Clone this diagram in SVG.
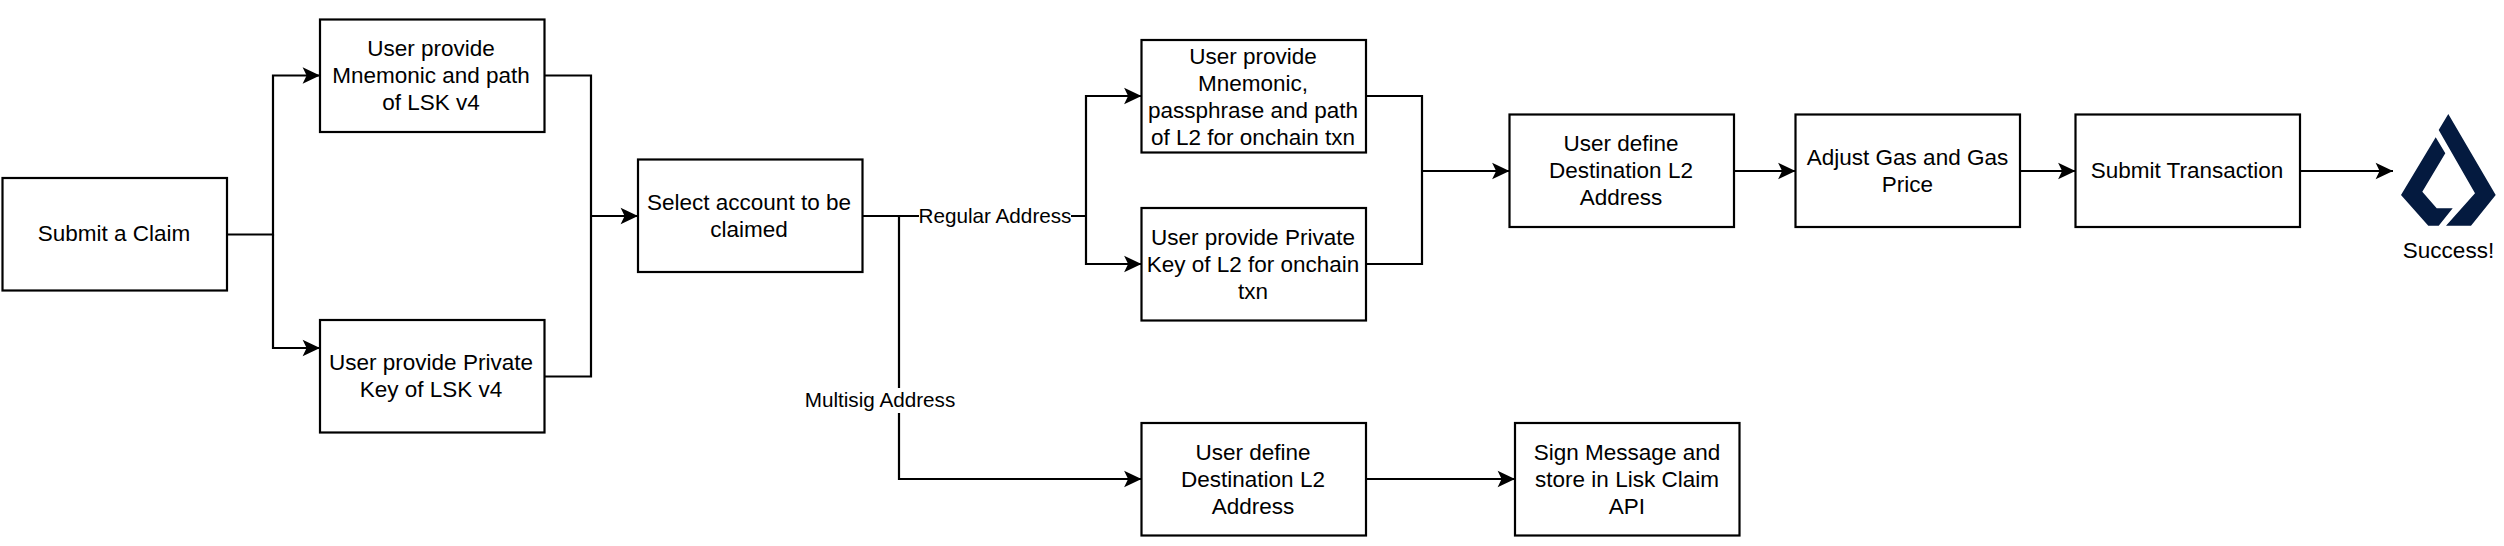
<svg xmlns="http://www.w3.org/2000/svg" width="2504" height="546" viewBox="0 0 2504 546">
<style>
.box{fill:#fff;stroke:#000;stroke-width:2.2}
.c{fill:none;stroke:#000;stroke-width:2.2;marker-end:url(#a)}
.n{fill:none;stroke:#000;stroke-width:2.2}
text{font-family:"Liberation Sans",Arial,sans-serif;font-size:22.5px;fill:#000;text-anchor:middle}
.l{font-size:20.7px}
.lb{fill:#fff;stroke:none}
</style>
<defs>
<marker id="a" markerUnits="userSpaceOnUse" markerWidth="19" markerHeight="19" refX="18" refY="9.5" orient="auto" overflow="visible">
<path d="M18 9.5L0.6 1.3L4.6 9.5L0.6 17.7Z" fill="#000"/>
</marker>
</defs>
<rect width="2504" height="546" fill="#fff"/>
<g id="connectors">
<path class="c" d="M227 234.5H273V75.5H320"/>
<path class="c" d="M273 234.5V348H320"/>
<path class="n" d="M544 75.5H591V376.5H544"/>
<path class="c" d="M591 216H638"/>
<path class="n" d="M862 216H1086"/>
<path class="c" d="M1086 216V96H1141.5"/>
<path class="c" d="M1086 216V264H1141.5"/>
<path class="c" d="M899 216V479H1141.5"/>
<path class="n" d="M1366 96H1422V264H1366"/>
<path class="c" d="M1422 171H1509.5"/>
<path class="c" d="M1734 171H1795.5"/>
<path class="c" d="M2020 171H2075.5"/>
<path class="c" d="M2300 171H2393"/>
<path class="c" d="M1366 479H1515"/>
<g id="label-regular"><rect class="lb" x="919" y="204" width="152" height="25"/><text class="l" x="995" y="223">Regular Address</text></g>
<g id="label-multisig"><rect class="lb" x="804" y="388" width="152" height="25"/><text class="l" x="880" y="407">Multisig Address</text></g>
</g>
<g id="submit-claim"><rect class="box" x="2.5" y="178" width="224.5" height="112.5"/><text x="114" y="240.5">Submit a Claim</text></g>
<g id="mnemonic-v4"><rect class="box" x="320" y="19.5" width="224.5" height="112.5"/><text x="431" y="55.5">User provide</text><text x="431" y="82.5">Mnemonic and path</text><text x="431" y="109.5">of LSK v4</text></g>
<g id="private-v4"><rect class="box" x="320" y="320" width="224.5" height="112.5"/><text x="431" y="370">User provide Private</text><text x="431" y="397">Key of LSK v4</text></g>
<g id="select-account"><rect class="box" x="638" y="159.5" width="224.5" height="112.5"/><text x="749" y="209.5">Select account to be</text><text x="749" y="236.5">claimed</text></g>
<g id="mnemonic-l2"><rect class="box" x="1141.5" y="40" width="224.5" height="112.5"/><text x="1253" y="63.5">User provide</text><text x="1253" y="90.5">Mnemonic,</text><text x="1253" y="117.5">passphrase and path</text><text x="1253" y="144.5">of L2 for onchain txn</text></g>
<g id="private-l2"><rect class="box" x="1141.5" y="208" width="224.5" height="112.5"/><text x="1253" y="244.5">User provide Private</text><text x="1253" y="271.5">Key of L2 for onchain</text><text x="1253" y="298.5">txn</text></g>
<g id="destination-regular"><rect class="box" x="1509.5" y="114.5" width="224.5" height="112.5"/><text x="1621" y="151">User define</text><text x="1621" y="178">Destination L2</text><text x="1621" y="205">Address</text></g>
<g id="adjust-gas"><rect class="box" x="1795.5" y="114.5" width="224.5" height="112.5"/><text x="1907.5" y="164.5">Adjust Gas and Gas</text><text x="1907.5" y="191.5">Price</text></g>
<g id="submit-transaction"><rect class="box" x="2075.5" y="114.5" width="224.5" height="112.5"/><text x="2187" y="177.5">Submit Transaction</text></g>
<g id="destination-multisig"><rect class="box" x="1141.5" y="423" width="224.5" height="112.5"/><text x="1253" y="459.5">User define</text><text x="1253" y="486.5">Destination L2</text><text x="1253" y="513.5">Address</text></g>
<g id="sign-message"><rect class="box" x="1515" y="423" width="224.5" height="112.5"/><text x="1627" y="459.5">Sign Message and</text><text x="1627" y="486.5">store in Lisk Claim</text><text x="1627" y="513.5">API</text></g>
<g id="success"><path fill="#041a3f" d="M2448.3 114L2495.7 195L2471 225.7H2446L2475 193.3L2438.7 130Z"/><path fill="#041a3f" d="M2435.7 137.3L2445.3 153.3L2422.3 191.7L2436.7 208.3H2452.7L2438.7 225.7H2428.3L2401 195Z"/><text x="2448.5" y="258">Success!</text></g>
</svg>
